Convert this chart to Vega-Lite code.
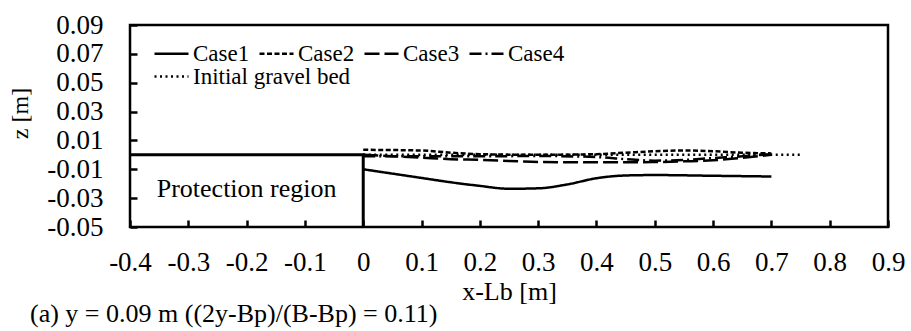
{
  "$schema": "https://vega.github.io/schema/vega-lite/v6.json",
  "width": 758,
  "height": 202,
  "autosize": {"type": "none"},
  "padding": {"left": 130, "top": 25, "right": 23, "bottom": 104},
  "background": "white",
  "config": {
    "font": "Liberation Serif",
    "view": {"stroke": "black", "strokeWidth": 2.5},
    "locale": {"number": {"decimal": ".", "thousands": ",", "grouping": [3], "currency": ["$", ""], "minus": "-"}},
    "axis": {"domain": false, "grid": false, "tickColor": "black", "tickWidth": 2.5, "tickSize": -7, "labelColor": "black", "labelFont": "Liberation Serif", "labelFontSize": 27, "labelFlush": false, "labelOverlap": false, "titleColor": "black", "titleFont": "Liberation Serif", "titleFontWeight": "normal"},
    "legend": {"labelFont": "Liberation Serif", "labelFontSize": 23, "labelColor": "black", "labelLimit": 0, "symbolType": "stroke", "symbolSize": 1156, "symbolStrokeWidth": 2.5, "symbolStrokeColor": "black", "labelOffset": 3, "columnPadding": 4, "padding": 0}
  },
  "title": {"text": "(a) y = 0.09 m ((2y-Bp)/(B-Bp) = 0.11)", "orient": "bottom", "anchor": "start", "frame": "group", "dx": -100, "fontSize": 26, "fontWeight": "normal", "font": "Liberation Serif", "color": "black", "offset": -3},
  "datasets": {
    "protect": [
      {"x": -0.4, "z": 0, "i": 1},
      {"x": 0, "z": 0, "i": 2},
      {"x": 0, "z": -0.05, "i": 3}
    ],
    "cases": [
      {"series": "Case1", "x": 0, "z": -0.0100},
      {"series": "Case1", "x": 0.05, "z": -0.0130},
      {"series": "Case1", "x": 0.1, "z": -0.0160},
      {"series": "Case1", "x": 0.15, "z": -0.0190},
      {"series": "Case1", "x": 0.2, "z": -0.0215},
      {"series": "Case1", "x": 0.25, "z": -0.0235},
      {"series": "Case1", "x": 0.3, "z": -0.0232},
      {"series": "Case1", "x": 0.35, "z": -0.0205},
      {"series": "Case1", "x": 0.4, "z": -0.0162},
      {"series": "Case1", "x": 0.45, "z": -0.0143},
      {"series": "Case1", "x": 0.5, "z": -0.0140},
      {"series": "Case1", "x": 0.6, "z": -0.0145},
      {"series": "Case1", "x": 0.7, "z": -0.0150},
      {"series": "Case2", "x": 0, "z": 0.0035},
      {"series": "Case2", "x": 0.1, "z": 0.0030},
      {"series": "Case2", "x": 0.15, "z": 0.0015},
      {"series": "Case2", "x": 0.2, "z": 0.0005},
      {"series": "Case2", "x": 0.3, "z": 0.0},
      {"series": "Case2", "x": 0.4, "z": 0.0005},
      {"series": "Case2", "x": 0.45, "z": 0.0015},
      {"series": "Case2", "x": 0.5, "z": 0.0025},
      {"series": "Case2", "x": 0.55, "z": 0.0030},
      {"series": "Case2", "x": 0.6, "z": 0.0025},
      {"series": "Case2", "x": 0.65, "z": 0.0015},
      {"series": "Case2", "x": 0.7, "z": 0.0010},
      {"series": "Case3", "x": 0, "z": 0.0},
      {"series": "Case3", "x": 0.05, "z": -0.0010},
      {"series": "Case3", "x": 0.1, "z": -0.0020},
      {"series": "Case3", "x": 0.15, "z": -0.0030},
      {"series": "Case3", "x": 0.2, "z": -0.0035},
      {"series": "Case3", "x": 0.25, "z": -0.0042},
      {"series": "Case3", "x": 0.3, "z": -0.0050},
      {"series": "Case3", "x": 0.4, "z": -0.0052},
      {"series": "Case3", "x": 0.5, "z": -0.0050},
      {"series": "Case3", "x": 0.55, "z": -0.0045},
      {"series": "Case3", "x": 0.6, "z": -0.0038},
      {"series": "Case3", "x": 0.65, "z": -0.0020},
      {"series": "Case3", "x": 0.7, "z": 0.0},
      {"series": "Case4", "x": 0, "z": -0.0010},
      {"series": "Case4", "x": 0.1, "z": -0.0010},
      {"series": "Case4", "x": 0.2, "z": -0.0010},
      {"series": "Case4", "x": 0.3, "z": -0.0008},
      {"series": "Case4", "x": 0.4, "z": -0.0015},
      {"series": "Case4", "x": 0.45, "z": -0.0030},
      {"series": "Case4", "x": 0.5, "z": -0.0040},
      {"series": "Case4", "x": 0.55, "z": -0.0035},
      {"series": "Case4", "x": 0.6, "z": -0.0022},
      {"series": "Case4", "x": 0.65, "z": -0.0010},
      {"series": "Case4", "x": 0.7, "z": 0.0005}
    ],
    "initial": [
      {"series": "Initial gravel bed", "x": 0, "z": 0.0},
      {"series": "Initial gravel bed", "x": 0.75, "z": 0.0}
    ],
    "labels": [
      {"x": -0.2, "z": -0.024, "t": "Protection region"}
    ]
  },
  "encoding": {
    "x": {
      "field": "x", "type": "quantitative",
      "scale": {"domain": [-0.4, 0.9], "nice": false, "zero": false},
      "axis": {
        "values": [-0.4, -0.3, -0.2, -0.1, 0, 0.1, 0.2, 0.3, 0.4, 0.5, 0.6, 0.7, 0.8, 0.9],
        "format": ".1~f",
        "labelPadding": 42,
        "labelBaseline": "middle",
        "title": "x-Lb [m]",
        "titleFontSize": 26,
        "titleY": 64,
        "titleBaseline": "middle"
      }
    },
    "y": {
      "field": "z", "type": "quantitative",
      "scale": {"domain": [-0.05, 0.09], "nice": false, "zero": false},
      "axis": {
        "values": [-0.05, -0.03, -0.01, 0.01, 0.03, 0.05, 0.07, 0.09],
        "format": ".2f",
        "labelPadding": 34,
        "title": "z [m]",
        "titleFontSize": 24,
        "titleX": -110,
        "titleY": 88,
        "titleAngle": -90,
        "titleAlign": "center",
        "titleBaseline": "middle"
      }
    }
  },
  "layer": [
    {
      "data": {"name": "protect"},
      "mark": {"type": "line", "color": "black", "strokeWidth": 3},
      "encoding": {"order": {"field": "i", "type": "quantitative"}}
    },
    {
      "data": {"name": "initial"},
      "mark": {"type": "line", "strokeWidth": 2.5, "strokeDash": [2, 3.5]},
      "encoding": {
        "color": {
          "field": "series", "type": "nominal",
          "scale": {"range": ["black"]},
          "legend": {"title": null, "orient": "none", "legendX": 23, "legendY": 33, "symbolDash": [2, 3.5], "symbolStrokeColor": "black"}
        }
      }
    },
    {
      "data": {"name": "cases"},
      "mark": {"type": "line", "color": "black", "strokeWidth": 2.5, "interpolate": "monotone"},
      "encoding": {
        "strokeDash": {
          "field": "series", "type": "nominal",
          "scale": {"domain": ["Case1", "Case2", "Case3", "Case4"], "range": [[1, 0], [5, 2.5], [15, 5], [12, 4, 2, 4]]},
          "legend": {
            "title": null,
            "orient": "none",
            "legendX": 23,
            "legendY": 10,
            "columns": 4,
            "direction": "horizontal"
          }
        }
      }
    },
    {
      "data": {"name": "labels"},
      "mark": {"type": "text", "fontSize": 26, "font": "Liberation Serif", "color": "black"},
      "encoding": {"text": {"field": "t"}}
    }
  ]
}
